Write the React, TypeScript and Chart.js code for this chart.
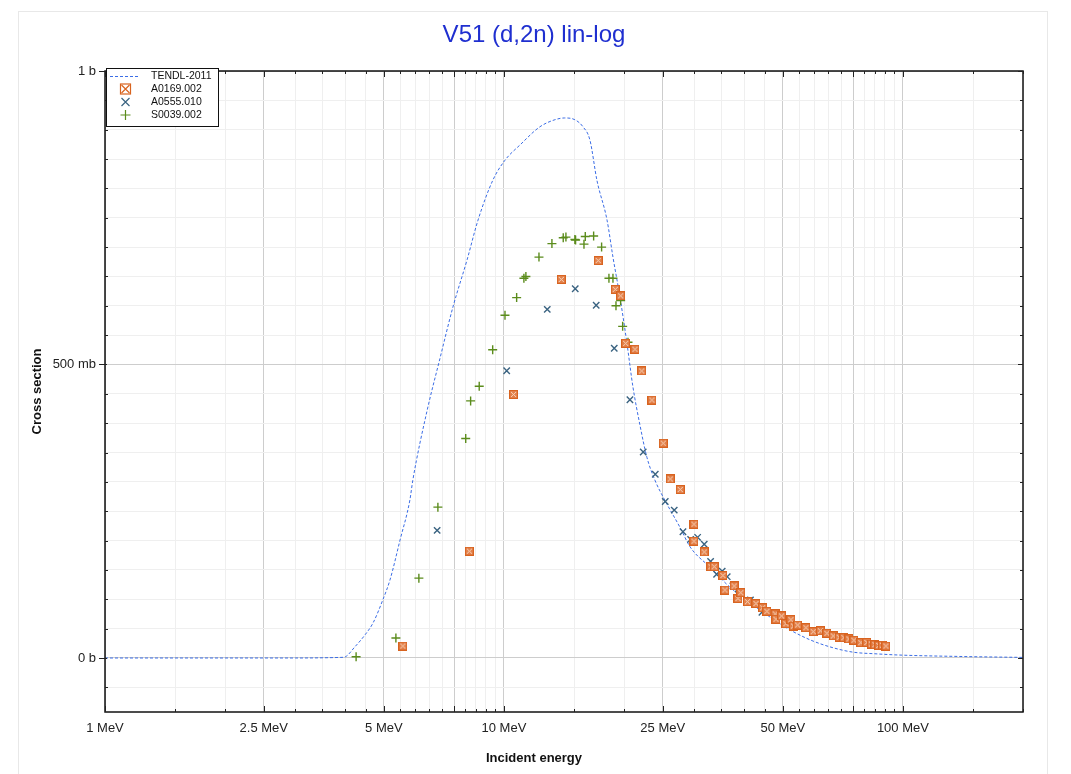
import React, { useEffect, useRef } from 'react';
import { Chart, registerables } from 'chart.js';

Chart.register(...registerables);

const FONT = '"Liberation Sans", Arial, Helvetica, sans-serif';

// ---- TENDL-2011 evaluated curve (energy MeV, cross section b)
const tendlE = [1, 2, 3, 3.9, 4.0, 4.23, 4.48, 4.7, 4.97, 5.18, 5.49, 5.81, 5.91, 6.41, 6.91, 7.45, 8.08, 8.61, 9.38, 10.06, 10.97, 12.31, 13.42, 14.2, 15.06, 15.78, 16.43, 17.1, 18.13, 18.76, 19.53, 20.33, 21.05, 21.92, 22.82, 23.9, 25.3, 27.6, 29.3, 32.8, 36.8, 41.4, 46.4, 52.1, 58.5, 65.6, 74.9, 86.1, 98.3, 139, 200];
const tendlXS = [0, 0, 0, 0.001, 0.002, 0.019, 0.039, 0.06, 0.099, 0.133, 0.201, 0.269, 0.303, 0.42, 0.51, 0.598, 0.678, 0.746, 0.814, 0.848, 0.874, 0.905, 0.917, 0.92, 0.917, 0.905, 0.882, 0.814, 0.746, 0.683, 0.615, 0.537, 0.462, 0.397, 0.342, 0.303, 0.269, 0.223, 0.189, 0.155, 0.121, 0.094, 0.07, 0.048, 0.031, 0.019, 0.01, 0.007, 0.005, 0.0026, 0.001];

// ---- A0169.002
const a0169E = [5.58, 8.19, 10.57, 13.92, 17.23, 19.01, 19.61, 20.19, 21.3, 22.15, 23.49, 25.07, 26.11, 27.66, 29.94, 29.94, 31.77, 33.02, 33.65, 35.39, 35.8, 37.76, 38.6, 39.23, 40.77, 42.82, 44.51, 45.62, 47.86, 48.06, 49.66, 50.91, 52.4, 53.16, 54.47, 57.14, 59.6, 62.12, 64.49, 66.89, 69.24, 71.14, 73.22, 75.36, 78.46, 81.23, 83.37, 85.07, 87.05, 88.83, 90.66];
const a0169XS = [0.0204, 0.182, 0.449, 0.645, 0.677, 0.628, 0.617, 0.536, 0.526, 0.489, 0.4395, 0.366, 0.305, 0.287, 0.228, 0.199, 0.1806, 0.1555, 0.1555, 0.1405, 0.1158, 0.1227, 0.1013, 0.1112, 0.0959, 0.0928, 0.0855, 0.0796, 0.075, 0.0661, 0.0716, 0.0584, 0.0652, 0.0545, 0.0562, 0.0516, 0.0448, 0.0463, 0.0421, 0.0375, 0.0354, 0.0346, 0.0324, 0.0303, 0.0261, 0.0264, 0.0238, 0.0227, 0.0213, 0.0218, 0.0204];

// ---- A0555.010
const a0555E = [6.8, 10.16, 12.84, 15.09, 17.03, 18.9, 20.69, 22.34, 23.95, 25.37, 26.72, 28.1, 29.37, 30.58, 31.77, 32.96, 34.12, 35.24, 36.28, 37.49, 38.6, 41.48, 44.32];
const a0555XS = [0.2175, 0.4894, 0.594, 0.629, 0.601, 0.5276, 0.44, 0.351, 0.313, 0.2666, 0.252, 0.215, 0.202, 0.2056, 0.1937, 0.1647, 0.1426, 0.148, 0.1385, 0.1227, 0.109, 0.0988, 0.078];

// ---- S0039.002
const s0039E = [4.26, 5.36, 6.12, 6.83, 8.02, 8.25, 8.67, 9.37, 10.06, 10.76, 11.22, 11.35, 12.24, 13.19, 14.08, 14.3, 15.06, 15.12, 15.87, 15.99, 16.78, 17.57, 18.33, 18.76, 19.61, 19.09, 19.84, 20.46];
const s0039XS = [0.002, 0.034, 0.136, 0.257, 0.374, 0.438, 0.463, 0.525, 0.584, 0.614, 0.647, 0.65, 0.683, 0.706, 0.716, 0.717, 0.713, 0.712, 0.705, 0.718, 0.719, 0.7, 0.647, 0.647, 0.609, 0.6, 0.565, 0.538];

// ---- axis ticks
const xTickValues = [1, 1.5, 2, 2.5, 3, 3.5, 4, 4.5, 5, 5.5, 6, 6.5, 7, 7.5, 8, 8.5, 9, 9.5, 10, 15, 20, 25, 30, 35, 40, 45, 50, 55, 60, 65, 70, 75, 80, 85, 90, 95, 100, 150, 200];
const xLabelValues = [1, 2.5, 5, 10, 25, 50, 100];
const xLabelTexts = ['1 MeV', '2.5 MeV', '5 MeV', '10 MeV', '25 MeV', '50 MeV', '100 MeV'];
const xMajorValues = [1, 2.5, 5, 7.5, 10, 25, 50, 75, 100];
const yTickValues = [-0.05, 0, 0.05, 0.1, 0.15, 0.2, 0.25, 0.3, 0.35, 0.4, 0.45, 0.5, 0.55, 0.6, 0.65, 0.7, 0.75, 0.8, 0.85, 0.9, 0.95, 1];
const yLabelValues = [0, 0.5, 1];
const yLabelTexts = ['0 b', '500 mb', '1 b'];

const TITLE = 'V51 (d,2n) lin-log';
const X_TITLE = 'Incident energy';
const Y_TITLE = 'Cross section';
const seriesNames = ['TENDL-2011', 'A0169.002', 'A0555.010', 'S0039.002'];

const C_TENDL = '#3b6de6';
const C_A0169 = '#d8631f';
const C_A0555 = '#3a6381';
const C_S0039 = '#5b8c1c';

const near = (a: number, b: number) => Math.abs(a - b) < 1e-9;
const inList = (v: number, list: number[]) => list.some((w) => near(v, w));

function makeBoxMarker(): HTMLCanvasElement {
  const c = document.createElement('canvas');
  c.width = 9;
  c.height = 9;
  const g = c.getContext('2d')!;
  g.fillStyle = '#e3804a';
  g.fillRect(0, 0, 9, 9);
  g.strokeStyle = C_A0169;
  g.lineWidth = 1;
  g.strokeRect(0.5, 0.5, 8, 8);
  g.strokeStyle = '#f8d8c0';
  g.beginPath();
  g.moveTo(2, 2);
  g.lineTo(7, 7);
  g.moveTo(7, 2);
  g.lineTo(2, 7);
  g.stroke();
  return c;
}

const decor = {
  id: 'decor',
  beforeDraw(chart: any) {
    const ctx = chart.ctx;
    ctx.save();
    ctx.fillStyle = '#ffffff';
    ctx.fillRect(0, 0, chart.width, chart.height);
    ctx.strokeStyle = '#e8e8e8';
    ctx.lineWidth = 1;
    ctx.strokeRect(18.5, 11.5, 1029, 800);
    ctx.restore();
  },
  afterDraw(chart: any) {
    const ctx = chart.ctx;
    const a = chart.chartArea;
    const xs = chart.scales.x;
    const ys = chart.scales.y;
    ctx.save();
    // title
    ctx.fillStyle = '#1f2fd0';
    ctx.font = `24px ${FONT}`;
    ctx.textAlign = 'center';
    ctx.textBaseline = 'middle';
    ctx.fillText(TITLE, 534, 35);

    // frame
    ctx.strokeStyle = '#111';
    ctx.lineWidth = 1.5;
    ctx.strokeRect(a.left, a.top, a.right - a.left, a.bottom - a.top);
    ctx.lineWidth = 1;
    ctx.strokeStyle = '#222';
    ctx.beginPath();
    xTickValues.forEach((v) => {
      const px = Math.round(xs.getPixelForValue(v)) + 0.5;
      const len = inList(v, xMajorValues) ? 6 : 3;
      ctx.moveTo(px, a.bottom);
      ctx.lineTo(px, a.bottom - len);
      ctx.moveTo(px, a.top);
      ctx.lineTo(px, a.top + len);
    });
    yTickValues.forEach((v) => {
      const py = Math.round(ys.getPixelForValue(v)) + 0.5;
      if (inList(v, yLabelValues)) {
        ctx.moveTo(a.left - 6, py);
        ctx.lineTo(a.left + 2, py);
        ctx.moveTo(a.right, py);
        ctx.lineTo(a.right - 5, py);
      } else {
        ctx.moveTo(a.left, py);
        ctx.lineTo(a.left + 3, py);
        ctx.moveTo(a.right, py);
        ctx.lineTo(a.right - 3, py);
      }
    });
    ctx.stroke();

    // axis titles
    ctx.fillStyle = '#111';
    ctx.font = `bold 13px ${FONT}`;
    ctx.textAlign = 'center';
    ctx.textBaseline = 'middle';
    ctx.fillText(X_TITLE, 534, 758);
    ctx.save();
    ctx.translate(37, (a.top + a.bottom) / 2);
    ctx.rotate(-Math.PI / 2);
    ctx.fillText(Y_TITLE, 0, 0);
    ctx.restore();

    // legend
    const lx = 106, ly = 68, lw = 112, lh = 58;
    ctx.fillStyle = '#ffffff';
    ctx.fillRect(lx, ly, lw, lh);
    ctx.strokeStyle = '#111';
    ctx.lineWidth = 1;
    ctx.strokeRect(lx + 0.5, ly + 0.5, lw, lh);
    const rows = [76, 89, 102, 115];
    ctx.font = `10.5px ${FONT}`;
    ctx.textAlign = 'left';
    ctx.fillStyle = '#111';
    rows.forEach((ry, i) => ctx.fillText(seriesNames[i], 151, ry + 0.5));
    // TENDL dashed line
    ctx.strokeStyle = C_TENDL;
    ctx.setLineDash([3, 2]);
    ctx.beginPath();
    ctx.moveTo(110, rows[0] + 0.5);
    ctx.lineTo(139, rows[0] + 0.5);
    ctx.stroke();
    ctx.setLineDash([]);
    // boxed X
    const mx = 125.5;
    ctx.strokeStyle = C_A0169;
    ctx.lineWidth = 1.2;
    ctx.strokeRect(mx - 5, rows[1] - 5, 10, 10);
    ctx.beginPath();
    ctx.moveTo(mx - 4, rows[1] - 4);
    ctx.lineTo(mx + 4, rows[1] + 4);
    ctx.moveTo(mx + 4, rows[1] - 4);
    ctx.lineTo(mx - 4, rows[1] + 4);
    ctx.stroke();
    // x
    ctx.strokeStyle = C_A0555;
    ctx.beginPath();
    ctx.moveTo(mx - 4, rows[2] - 4);
    ctx.lineTo(mx + 4, rows[2] + 4);
    ctx.moveTo(mx + 4, rows[2] - 4);
    ctx.lineTo(mx - 4, rows[2] + 4);
    ctx.stroke();
    // +
    ctx.strokeStyle = C_S0039;
    ctx.beginPath();
    ctx.moveTo(mx - 5, rows[3]);
    ctx.lineTo(mx + 5, rows[3]);
    ctx.moveTo(mx, rows[3] - 5);
    ctx.lineTo(mx, rows[3] + 5);
    ctx.stroke();
    ctx.restore();
  },
};

export default function App() {
  const ref = useRef<HTMLCanvasElement>(null);
  useEffect(() => {
    const canvas = ref.current!;
    const boxMarker = makeBoxMarker();
    const toPts = (xv: number[], yv: number[]) => xv.map((x, i) => ({ x, y: yv[i] }));
    const chart = new Chart(canvas, {
      type: 'scatter',
      data: {
        datasets: [
          {
            label: seriesNames[1],
            data: toPts(a0169E, a0169XS),
            pointStyle: boxMarker as any,
            pointRadius: 4.5,
            showLine: false,
          },
          {
            label: seriesNames[2],
            data: toPts(a0555E, a0555XS),
            pointStyle: 'crossRot',
            pointRadius: 4.5,
            borderColor: C_A0555,
            backgroundColor: C_A0555,
            pointBorderWidth: 1.4,
            showLine: false,
          },
          {
            label: seriesNames[3],
            data: toPts(s0039E, s0039XS),
            pointStyle: 'cross',
            pointRadius: 4.5,
            borderColor: C_S0039,
            backgroundColor: C_S0039,
            pointBorderWidth: 1.4,
            showLine: false,
          },
          {
            label: seriesNames[0],
            data: toPts(tendlE, tendlXS),
            showLine: true,
            pointRadius: 0,
            borderColor: C_TENDL,
            borderWidth: 1,
            borderDash: [3, 2],
            cubicInterpolationMode: 'monotone',
          } as any,
        ],
      },
      options: {
        responsive: false,
        animation: false,
        devicePixelRatio: 1,
        layout: { padding: { left: 0, right: 48, top: 71, bottom: 0 } },
        plugins: {
          legend: { display: false },
          tooltip: { enabled: false },
          title: { display: false },
        },
        scales: {
          x: {
            type: 'logarithmic',
            min: 1,
            max: 200,
            afterBuildTicks: (s: any) => {
              s.ticks = xTickValues.map((value) => ({ value }));
            },
            afterFit: (s: any) => {
              s.height = 62;
            },
            ticks: {
              autoSkip: false,
              maxRotation: 0,
              padding: 9,
              color: '#222',
              font: { family: FONT, size: 13 },
              callback: (v: any) => {
                const i = xLabelValues.findIndex((w) => near(w, Number(v)));
                return i >= 0 ? xLabelTexts[i] : '';
              },
            },
            grid: {
              drawTicks: false,
              color: (c: any) => (c.tick && inList(c.tick.value, xMajorValues) ? '#cdcdcd' : '#efefef'),
              lineWidth: 1,
            },
            border: { display: false },
          },
          y: {
            type: 'linear',
            min: -0.092,
            max: 1,
            afterBuildTicks: (s: any) => {
              s.ticks = yTickValues.map((value) => ({ value }));
            },
            afterFit: (s: any) => {
              s.width = 105;
            },
            ticks: {
              autoSkip: false,
              padding: 9,
              color: '#222',
              font: { family: FONT, size: 13 },
              callback: (v: any) => {
                const i = yLabelValues.findIndex((w) => near(w, Number(v)));
                return i >= 0 ? yLabelTexts[i] : '';
              },
            },
            grid: {
              drawTicks: false,
              color: (c: any) => (c.tick && inList(c.tick.value, yLabelValues) ? '#cdcdcd' : '#efefef'),
              lineWidth: 1,
            },
            border: { display: false },
          },
        },
      },
      plugins: [decor],
    });
    return () => chart.destroy();
  }, []);
  return (
    <div style={{ position: 'absolute', left: 0, top: 0, width: 1071, height: 774 }}>
      <canvas ref={ref} width={1071} height={774} style={{ width: 1071, height: 774, display: 'block' }} />
    </div>
  );
}
